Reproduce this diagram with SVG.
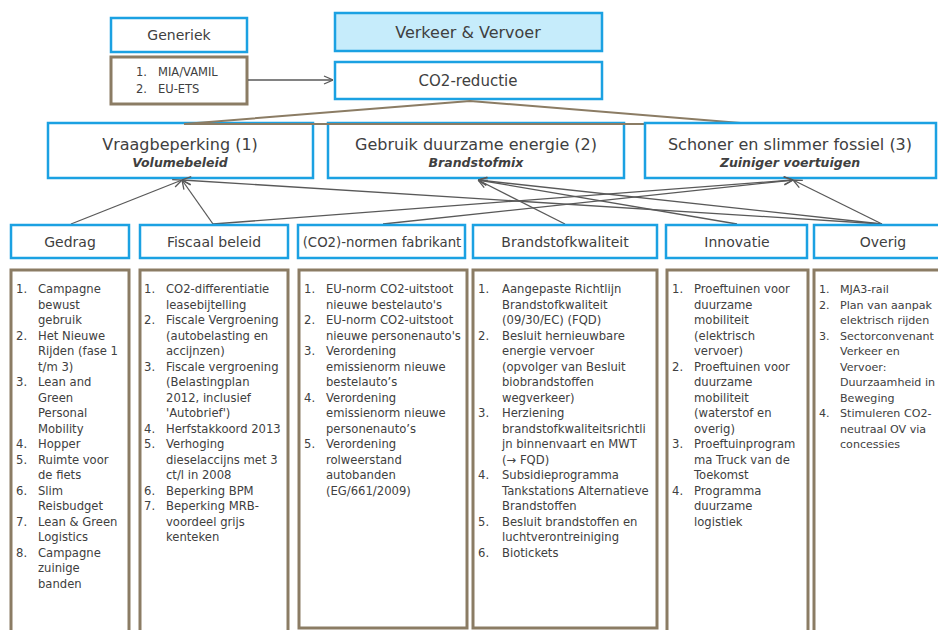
<svg xmlns="http://www.w3.org/2000/svg" width="938" height="630" viewBox="0 0 938 630">
<style>
.blue{fill:#ffffff;stroke:#1ba1e2;stroke-width:2.5}
.fillblue{fill:#c6ecfb;stroke:#1ba1e2;stroke-width:2.5}
.brown{fill:#ffffff;stroke:#8b7c64;stroke-width:3}
text{font-family:"DejaVu Sans",Verdana,sans-serif;fill:#404040}
.h{font-size:16px;text-anchor:middle}
.sub{font-size:12.5px;font-style:italic;font-weight:bold;text-anchor:middle}
.lab{font-size:14px;text-anchor:middle}
.small{font-size:11.5px}
.li{font-size:11.6px}
.conn{stroke:#595959;stroke-width:1.3;fill:none;marker-end:url(#arr)}
.brace{stroke:#8b7c64;stroke-width:2;fill:none}
</style>
<defs>
<marker id="arr" viewBox="0 0 10 10" refX="10" refY="5" markerWidth="10" markerHeight="10" markerUnits="userSpaceOnUse" orient="auto">
<path d="M1,1 L10,5 L1,9" fill="none" stroke="#595959" stroke-width="1.3"/>
</marker>
</defs>
<rect width="938" height="630" fill="#ffffff"/>

<g id="generiek"><rect class="blue" x="111" y="18" width="136" height="34"/><text class="lab" x="179" y="40">Generiek</text></g>
<g id="mia"><rect class="brown" x="111" y="57" width="136" height="47"/>
<text class="small"><tspan x="136" y="76">1.</tspan><tspan x="158" y="76">MIA/VAMIL</tspan><tspan x="136" y="93">2.</tspan><tspan x="158" y="93">EU-ETS</tspan></text></g>
<g id="verkeer"><rect class="fillblue" x="335" y="13" width="267" height="38"/><text class="h" x="468" y="38">Verkeer &amp; Vervoer</text></g>
<g id="co2"><rect class="blue" x="335" y="62" width="267" height="37"/><text class="h" x="468" y="86" style="font-size:15px">CO2-reductie</text></g>

<g id="vraag"><rect class="blue" x="48" y="123" width="265" height="55"/><text class="h" x="180" y="150">Vraagbeperking (1)</text><text class="sub" x="180" y="167">Volumebeleid</text></g>
<g id="gebruik"><rect class="blue" x="328" y="123" width="296" height="55"/><text class="h" x="476" y="150">Gebruik duurzame energie (2)</text><text class="sub" x="476" y="167">Brandstofmix</text></g>
<g id="brace"><path class="brace" d="M470,101 L184,124 L753,124 Z"/></g>
<g id="schoner"><rect class="blue" x="645" y="123" width="291" height="55"/><text class="h" x="790" y="150">Schoner en slimmer fossiel (3)</text><text class="sub" x="790" y="167">Zuiniger voertuigen</text></g>

<g id="connectors">
<line class="conn" x1="248" y1="80" x2="333" y2="80"/>
<line class="conn" x1="71" y1="224" x2="182" y2="180"/>
<line class="conn" x1="213" y1="224" x2="182" y2="180"/>
<line class="conn" x1="213" y1="224" x2="793" y2="180"/>
<line class="conn" x1="383" y1="224" x2="793" y2="180"/>
<line class="conn" x1="565" y1="224" x2="478" y2="180"/>
<line class="conn" x1="737" y1="224" x2="478" y2="180"/>
<line class="conn" x1="882" y1="224" x2="478" y2="180"/>
<line class="conn" x1="882" y1="224" x2="182" y2="180"/>
<line class="conn" x1="882" y1="224" x2="793" y2="180"/>
</g>

<g id="gedrag"><rect class="blue" x="11" y="225" width="118" height="33"/><text class="lab" x="70" y="247">Gedrag</text></g>
<g id="fiscaal"><rect class="blue" x="140" y="225" width="148" height="33"/><text class="lab" x="214" y="247">Fiscaal beleid</text></g>
<g id="normen"><rect class="blue" x="298" y="225" width="167" height="33"/><text class="lab" x="382" y="247" style="font-size:13.3px">(CO2)-normen fabrikant</text></g>
<g id="brandstof"><rect class="blue" x="473" y="225" width="184" height="33"/><text class="lab" x="565" y="247">Brandstofkwaliteit</text></g>
<g id="innovatie"><rect class="blue" x="666" y="225" width="141" height="33"/><text class="lab" x="737" y="247">Innovatie</text></g>
<g id="overig"><rect class="blue" x="814" y="225" width="140" height="33"/><text class="lab" x="883" y="247">Overig</text></g>

<g id="gedrag-list"><rect class="brown" x="11" y="270" width="118" height="380"/>
<text class="li">
<tspan x="16" y="293">1.</tspan><tspan x="38" y="293">Campagne</tspan>
<tspan x="38" y="308.5">bewust</tspan>
<tspan x="38" y="324">gebruik</tspan>
<tspan x="16" y="339.5">2.</tspan><tspan x="38" y="339.5">Het Nieuwe</tspan>
<tspan x="38" y="355">Rijden (fase 1</tspan>
<tspan x="38" y="370.5">t/m 3)</tspan>
<tspan x="16" y="386">3.</tspan><tspan x="38" y="386">Lean and</tspan>
<tspan x="38" y="401.5">Green</tspan>
<tspan x="38" y="417">Personal</tspan>
<tspan x="38" y="432.5">Mobility</tspan>
<tspan x="16" y="448">4.</tspan><tspan x="38" y="448">Hopper</tspan>
<tspan x="16" y="463.5">5.</tspan><tspan x="38" y="463.5">Ruimte voor</tspan>
<tspan x="38" y="479">de fiets</tspan>
<tspan x="16" y="494.5">6.</tspan><tspan x="38" y="494.5">Slim</tspan>
<tspan x="38" y="510">Reisbudget</tspan>
<tspan x="16" y="525.5">7.</tspan><tspan x="38" y="525.5">Lean &amp; Green</tspan>
<tspan x="38" y="541">Logistics</tspan>
<tspan x="16" y="556.5">8.</tspan><tspan x="38" y="556.5">Campagne</tspan>
<tspan x="38" y="572">zuinige</tspan>
<tspan x="38" y="587.5">banden</tspan>
</text></g>

<g id="fiscaal-list"><rect class="brown" x="140" y="270" width="148" height="380"/>
<text class="li">
<tspan x="144" y="293">1.</tspan><tspan x="166" y="293">CO2-differentiatie</tspan>
<tspan x="166" y="308.5">leasebijtelling</tspan>
<tspan x="144" y="324">2.</tspan><tspan x="166" y="324">Fiscale Vergroening</tspan>
<tspan x="166" y="339.5">(autobelasting en</tspan>
<tspan x="166" y="355">accijnzen)</tspan>
<tspan x="144" y="370.5">3.</tspan><tspan x="166" y="370.5">Fiscale vergroening</tspan>
<tspan x="166" y="386">(Belastingplan</tspan>
<tspan x="166" y="401.5">2012, inclusief</tspan>
<tspan x="166" y="417">'Autobrief')</tspan>
<tspan x="144" y="432.5">4.</tspan><tspan x="166" y="432.5">Herfstakkoord 2013</tspan>
<tspan x="144" y="448">5.</tspan><tspan x="166" y="448">Verhoging</tspan>
<tspan x="166" y="463.5">dieselaccijns met 3</tspan>
<tspan x="166" y="479">ct/l in 2008</tspan>
<tspan x="144" y="494.5">6.</tspan><tspan x="166" y="494.5">Beperking BPM</tspan>
<tspan x="144" y="510">7.</tspan><tspan x="166" y="510">Beperking MRB-</tspan>
<tspan x="166" y="525.5">voordeel grijs</tspan>
<tspan x="166" y="541">kenteken</tspan>
</text></g>

<g id="normen-list"><rect class="brown" x="299" y="270" width="168" height="358"/>
<text class="li">
<tspan x="304" y="293">1.</tspan><tspan x="326" y="293">EU-norm CO2-uitstoot</tspan>
<tspan x="326" y="308.5">nieuwe bestelauto's</tspan>
<tspan x="304" y="324">2.</tspan><tspan x="326" y="324">EU-norm CO2-uitstoot</tspan>
<tspan x="326" y="339.5">nieuwe personenauto's</tspan>
<tspan x="304" y="355">3.</tspan><tspan x="326" y="355">Verordening</tspan>
<tspan x="326" y="370.5">emissienorm nieuwe</tspan>
<tspan x="326" y="386">bestelauto’s</tspan>
<tspan x="304" y="401.5">4.</tspan><tspan x="326" y="401.5">Verordening</tspan>
<tspan x="326" y="417">emissienorm nieuwe</tspan>
<tspan x="326" y="432.5">personenauto’s</tspan>
<tspan x="304" y="448">5.</tspan><tspan x="326" y="448">Verordening</tspan>
<tspan x="326" y="463.5">rolweerstand</tspan>
<tspan x="326" y="479">autobanden</tspan>
<tspan x="326" y="494.5">(EG/661/2009)</tspan>
</text></g>

<g id="brandstof-list"><rect class="brown" x="473" y="270" width="184" height="358"/>
<text class="li">
<tspan x="478" y="293">1.</tspan><tspan x="502" y="293">Aangepaste Richtlijn</tspan>
<tspan x="502" y="308.5">Brandstofkwaliteit</tspan>
<tspan x="502" y="324">(09/30/EC) (FQD)</tspan>
<tspan x="478" y="339.5">2.</tspan><tspan x="502" y="339.5">Besluit hernieuwbare</tspan>
<tspan x="502" y="355">energie vervoer</tspan>
<tspan x="502" y="370.5">(opvolger van Besluit</tspan>
<tspan x="502" y="386">biobrandstoffen</tspan>
<tspan x="502" y="401.5">wegverkeer)</tspan>
<tspan x="478" y="417">3.</tspan><tspan x="502" y="417">Herziening</tspan>
<tspan x="502" y="432.5">brandstofkwaliteitsrichtli</tspan>
<tspan x="502" y="448">jn binnenvaart en MWT</tspan>
<tspan x="502" y="463.5">(→ FQD)</tspan>
<tspan x="478" y="479">4.</tspan><tspan x="502" y="479">Subsidieprogramma</tspan>
<tspan x="502" y="494.5">Tankstations Alternatieve</tspan>
<tspan x="502" y="510">Brandstoffen</tspan>
<tspan x="478" y="525.5">5.</tspan><tspan x="502" y="525.5">Besluit brandstoffen en</tspan>
<tspan x="502" y="541">luchtverontreiniging</tspan>
<tspan x="478" y="556.5">6.</tspan><tspan x="502" y="556.5">Biotickets</tspan>
</text></g>

<g id="innovatie-list"><rect class="brown" x="667" y="270" width="141" height="380"/>
<text class="li">
<tspan x="672" y="293">1.</tspan><tspan x="694" y="293">Proeftuinen voor</tspan>
<tspan x="694" y="308.5">duurzame</tspan>
<tspan x="694" y="324">mobiliteit</tspan>
<tspan x="694" y="339.5">(elektrisch</tspan>
<tspan x="694" y="355">vervoer)</tspan>
<tspan x="672" y="370.5">2.</tspan><tspan x="694" y="370.5">Proeftuinen voor</tspan>
<tspan x="694" y="386">duurzame</tspan>
<tspan x="694" y="401.5">mobiliteit</tspan>
<tspan x="694" y="417">(waterstof en</tspan>
<tspan x="694" y="432.5">overig)</tspan>
<tspan x="672" y="448">3.</tspan><tspan x="694" y="448">Proeftuinprogram</tspan>
<tspan x="694" y="463.5">ma Truck van de</tspan>
<tspan x="694" y="479">Toekomst</tspan>
<tspan x="672" y="494.5">4.</tspan><tspan x="694" y="494.5">Programma</tspan>
<tspan x="694" y="510">duurzame</tspan>
<tspan x="694" y="525.5">logistiek</tspan>
</text></g>

<g id="overig-list"><rect class="brown" x="814" y="270" width="140" height="380"/>
<text class="li" style="font-size:11.1px">
<tspan x="819" y="293">1.</tspan><tspan x="840" y="293">MJA3-rail</tspan>
<tspan x="819" y="308.5">2.</tspan><tspan x="840" y="308.5">Plan van aanpak</tspan>
<tspan x="840" y="324">elektrisch rijden</tspan>
<tspan x="819" y="339.5">3.</tspan><tspan x="840" y="339.5">Sectorconvenant</tspan>
<tspan x="840" y="355">Verkeer en</tspan>
<tspan x="840" y="370.5">Vervoer:</tspan>
<tspan x="840" y="386">Duurzaamheid in</tspan>
<tspan x="840" y="401.5">Beweging</tspan>
<tspan x="819" y="417">4.</tspan><tspan x="840" y="417">Stimuleren CO2-</tspan>
<tspan x="840" y="432.5">neutraal OV via</tspan>
<tspan x="840" y="448">concessies</tspan>
</text></g>
</svg>
